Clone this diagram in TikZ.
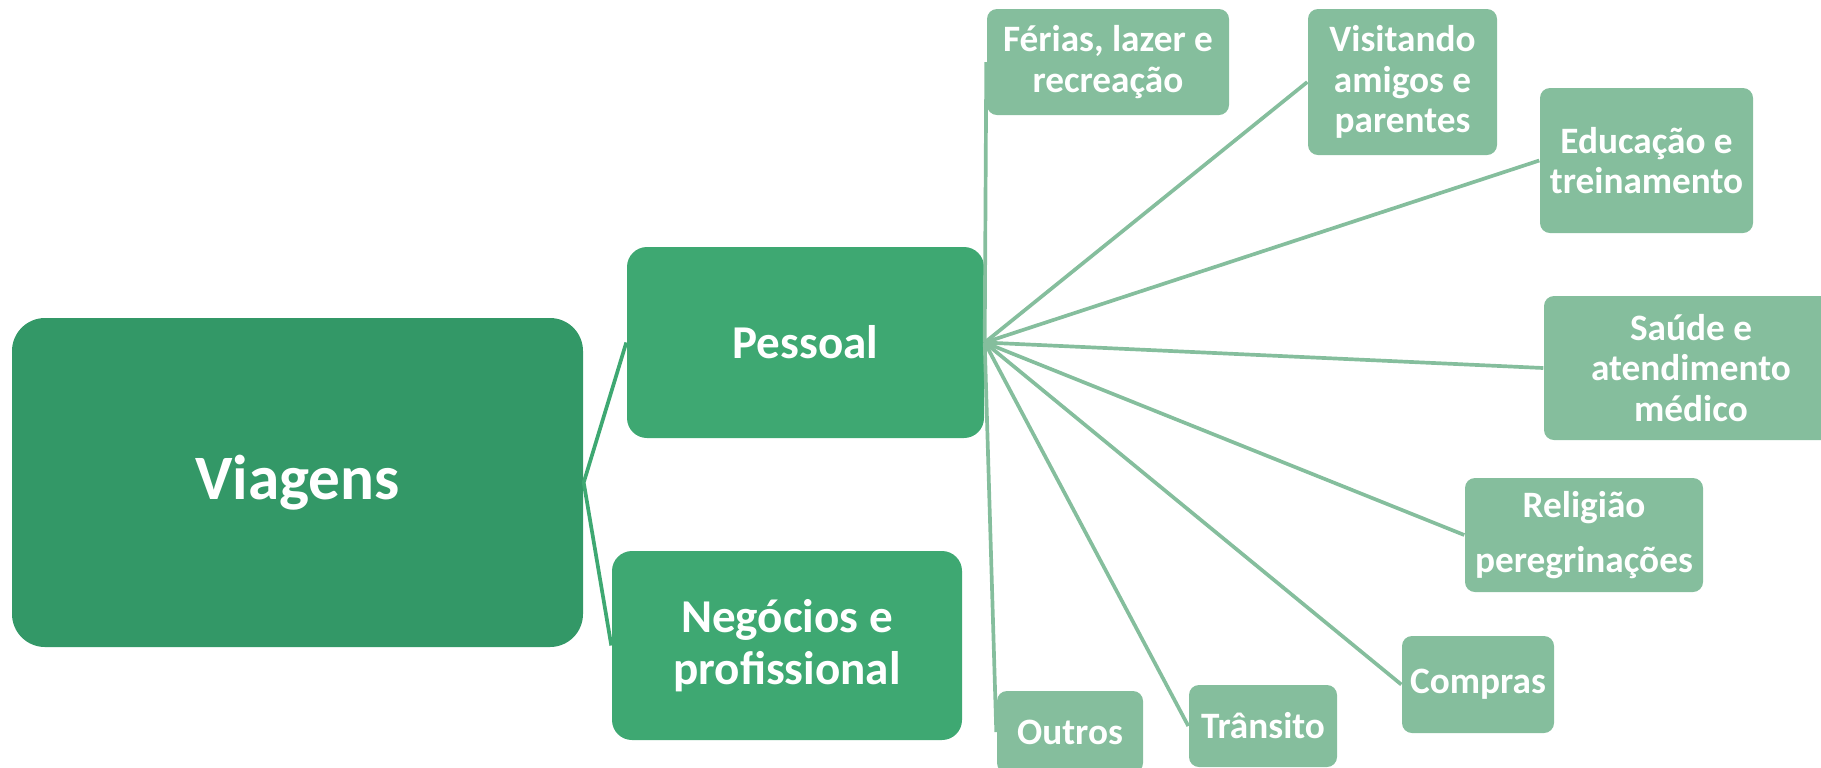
\documentclass[tikz,border=0pt]{standalone}
\usepackage{fontspec}
\setmainfont{Carlito}
\usepackage{tikz}

\definecolor{rootgreen}{RGB}{51,152,103}
\definecolor{midgreen}{RGB}{62,168,114}
\definecolor{leafgreen}{RGB}{133,190,157}

\tikzset{
    rootbox/.style={rectangle,rounded corners=3.3mm,fill=rootgreen,text=white,inner sep=0,align=center,
        font=\bfseries\fontsize{18}{20}\selectfont},
    midbox/.style={rectangle,rounded corners=2mm,fill=midgreen,text=white,inner sep=0,align=center,
        font=\bfseries\fontsize{13.4}{14.8}\selectfont},
    leafbox/.style={rectangle,rounded corners=1mm,fill=leafgreen,text=white,inner sep=0,align=center,
        font=\bfseries\fontsize{10.6}{11.6}\selectfont},
    rootlink/.style={draw=midgreen,line width=1.05pt},
    leaflink/.style={draw=leafgreen,line width=1.05pt}
}

\begin{document}
\begin{tikzpicture}
    \pgfmathsetmacro{\picwidth}{18.21}
    \pgfmathsetmacro{\picheight}{7.67}
    \path[use as bounding box,clip] (0,0) rectangle (\picwidth,-\picheight);
    % main boxes
    \node[rootbox,minimum width=5.71cm,minimum height=3.29cm] (viagens) at (2.975,-4.825) {Viagens};
    \node[midbox,minimum width=3.57cm,minimum height=1.91cm] (pessoal) at (8.055,-3.425) {Pessoal};
    \node[midbox,minimum width=3.50cm,minimum height=1.89cm] (negocios) at (7.87,-6.455) {Negócios e\\profissional};
    % leaves of Pessoal
    \node[leafbox,minimum width=2.42cm,minimum height=1.06cm] (ferias) at (11.08,-0.62) {Férias, lazer e\\recreação};
    \node[leafbox,minimum width=1.89cm,minimum height=1.46cm] (visitando) at (14.025,-0.82) {Visitando\\amigos e\\parentes};
    \node[leafbox,minimum width=2.13cm,minimum height=1.45cm] (educacao) at (16.465,-1.605) {Educação e\\treinamento};
    \node[leafbox,minimum width=2.94cm,minimum height=1.44cm] (saude) at (16.91,-3.68) {Saúde e\\atendimento\\médico};
    \node[leafbox,minimum width=2.38cm,minimum height=1.14cm] (religiao) at (15.84,-5.35) {Religião\\[4pt]peregrinações};
    \node[leafbox,minimum width=1.52cm,minimum height=0.97cm] (compras) at (14.78,-6.845) {Compras};
    \node[leafbox,minimum width=1.48cm,minimum height=0.82cm] (transito) at (12.63,-7.26) {Trânsito};
    \node[leafbox,minimum width=1.46cm,minimum height=0.82cm] (outros) at (10.70,-7.32) {Outros};
    % connectors
    \draw[rootlink] (pessoal.west) -- (viagens.east) -- (negocios.west);
    \foreach \leaf in {ferias,visitando,educacao,saude,religiao,compras,transito,outros}
        \draw[leaflink] (pessoal.east) -- (\leaf.west);
\end{tikzpicture}
\end{document}
